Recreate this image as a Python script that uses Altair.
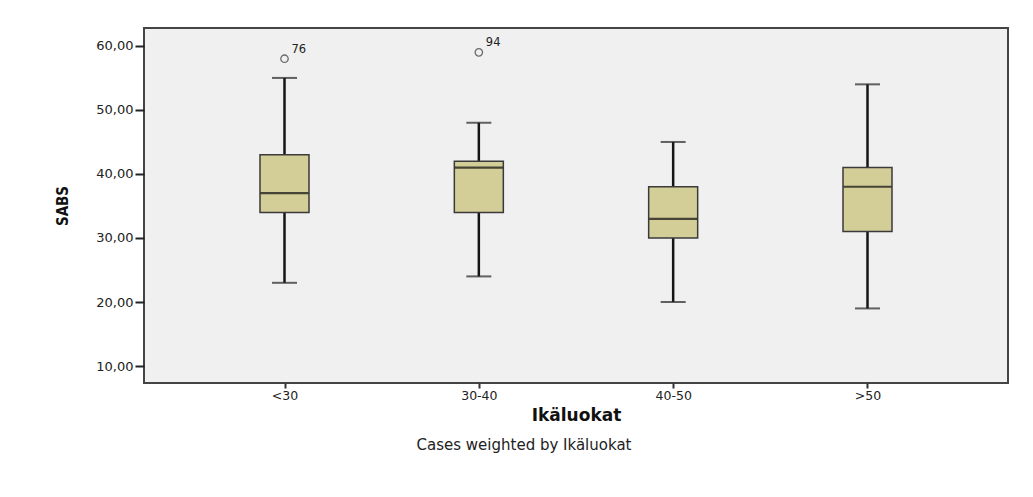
import altair as alt
import pandas as pd

categories = ["<30", "30-40", "40-50", ">50"]
whisker_low = [23, 24, 20, 19]
q1 = [34, 34, 30, 31]
median = [37, 41, 33, 38]
q3 = [43, 42, 38, 41]
whisker_high = [55, 48, 45, 54]

outlier_cat = ["<30", "30-40"]
outlier_val = [58, 59]
outlier_lbl = ["76", "94"]

y_ticks = [10, 20, 30, 40, 50, 60]

box = pd.DataFrame({
    "cat": categories, "lo": whisker_low, "q1": q1, "med": median,
    "q3": q3, "hi": whisker_high,
})
out = pd.DataFrame({"cat": outlier_cat, "val": outlier_val, "lbl": outlier_lbl})

FONT = "DejaVu Sans"

x_enc = alt.X(
    "cat:N", sort=categories,
    scale=alt.Scale(type="point", padding=0.723),
    axis=alt.Axis(
        title="Ikäluokat", titleFont=FONT, titleFontSize=17, titleFontWeight="bold",
        titleColor="#111", titleY=37, titleBaseline="alphabetic",
        labelFont=FONT, labelFontSize=12.5, labelColor="#222", labelPadding=1,
        labelAngle=0, tickSize=5, tickColor="#333", tickWidth=2, domain=False,
    ),
)
y_scale = alt.Scale(domain=[7.35, 62.8], nice=False, zero=False)
y_axis = alt.Axis(
    title="SABS", titleFont="DejaVu Sans Condensed, Liberation Sans, sans-serif",
    titleFontSize=15, titleFontWeight="bold", titleColor="#111", titleAngle=270,
    titleX=-82, titleY=177.5, titleAlign="center", titleBaseline="middle",
    values=y_ticks, grid=False, domain=False, tickSize=9, tickColor="#222",
    tickWidth=2, labelFont=FONT, labelFontSize=13, labelColor="#222",
    labelPadding=2,
    labelExpr="replace(format(datum.value, '.2f'), '.', ',')",
)

base = alt.Chart(box).encode(x=x_enc)

whisk = base.mark_rule(color="#151515", strokeWidth=2.5).encode(
    y=alt.Y("lo:Q", scale=y_scale, axis=y_axis), y2="hi:Q"
)
bars = base.mark_bar(size=49, fill="#d3cd98", stroke="#3a3a3a", strokeWidth=1.5).encode(
    y=alt.Y("q1:Q", scale=y_scale), y2="q3:Q"
)
med = base.mark_tick(size=48, thickness=2.2, color="#0a0a0a").encode(
    y=alt.Y("med:Q", scale=y_scale)
)
cap_lo = base.mark_tick(size=25, thickness=2, color="#222").encode(
    y=alt.Y("lo:Q", scale=y_scale)
)
cap_hi = base.mark_tick(size=25, thickness=2, color="#222").encode(
    y=alt.Y("hi:Q", scale=y_scale)
)

ob = alt.Chart(out).encode(
    x=alt.X("cat:N", sort=categories), y=alt.Y("val:Q", scale=y_scale)
)
pts = ob.mark_point(shape="circle", filled=False, size=55, color="#333", strokeWidth=1.3)
lbls = ob.mark_text(align="left", dx=7, dy=-9, font=FONT, fontSize=11.5, color="#222").encode(
    text="lbl:N"
)

chart = alt.layer(whisk, bars, med, cap_lo, cap_hi, pts, lbls).properties(
    width=864, height=355,
    autosize=alt.AutoSizeParams(type="none"),
    padding={"left": 136, "top": 20, "right": 10, "bottom": 100},
    background="white",
    title=alt.TitleParams(
        text="Cases weighted by Ikäluokat", orient="bottom", anchor="middle",
        dx=-52, offset=15, font=FONT, fontSize=15, fontWeight="normal", color="#222",
    ),
).configure_view(
    fill="#f0f0f0", stroke="#444", strokeWidth=2
)

chart.save("out.html", embed_options={"renderer": "svg", "actions": False})
